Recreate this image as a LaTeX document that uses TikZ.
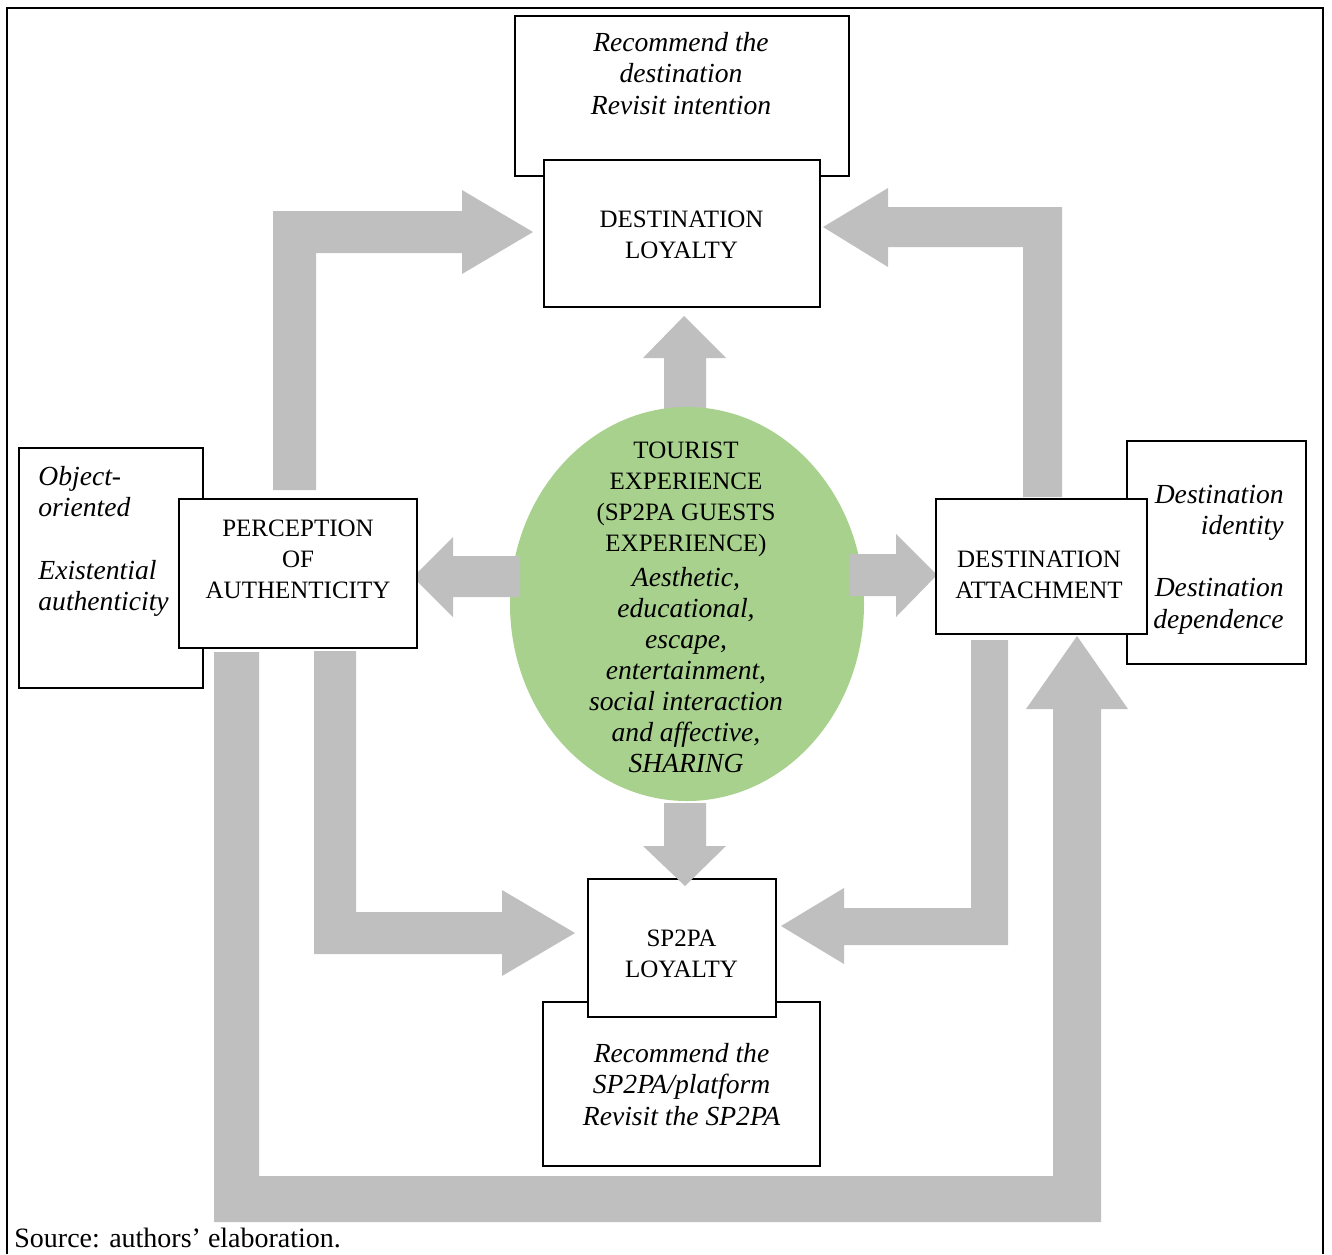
\documentclass[tikz,border=0pt]{standalone}
\usepackage{fontspec}
\setmainfont{Liberation Serif}
\usetikzlibrary{shapes.geometric}
\definecolor{arrowgray}{HTML}{BFBFBF}
\definecolor{expgreen}{HTML}{A9D18E}
\newcommand\capsz{\fontsize{12.5}{15.5}\selectfont}
\newcommand\itsz{\fontsize{13.8}{15.7}\selectfont\itshape}
\newcommand\srcsz{\fontsize{14}{16}\selectfont}
\tikzset{
  box/.style={draw=black, line width=1pt, fill=white, inner sep=0pt},
  lbl/.style={inner sep=0pt, align=center, font=\capsz},
  itlbl/.style={inner sep=0pt, font=\itsz},
  blockarrow/.style={fill=arrowgray, draw=none},
}
\begin{document}
\begin{tikzpicture}[x=0.5pt, y=-0.5pt]
\useasboundingbox (0,0) rectangle (1332,1254);

% outer frame (open at the bottom)
\draw[line width=1.1pt] (7,1254) -- (7,8) -- (1323,8) -- (1323,1254);

% block arrows lying behind the boxes
% perception of authenticity -> destination loyalty
\fill[blockarrow] (273,490) -- (273,211) -- (462,211) -- (462,190) -- (533,232)
  -- (462,274) -- (462,253) -- (316,253) -- (316,490) -- cycle;
% destination attachment -> destination loyalty
\fill[blockarrow] (1062,497) -- (1062,207) -- (888,207) -- (888,188) -- (823,227)
  -- (888,267) -- (888,247) -- (1023,247) -- (1023,497) -- cycle;
% tourist experience -> destination loyalty
\fill[blockarrow] (664,412) -- (664,358) -- (643,358) -- (684,316) -- (726,358)
  -- (706,358) -- (706,412) -- cycle;
% perception of authenticity -> SP2PA loyalty
\fill[blockarrow] (314,651) -- (356,651) -- (356,912) -- (502,912) -- (502,890)
  -- (575,933) -- (502,976) -- (502,954) -- (314,954) -- cycle;
% destination attachment -> SP2PA loyalty
\fill[blockarrow] (1008,640) -- (1008,945) -- (844,945) -- (844,964) -- (781,926)
  -- (844,888) -- (844,908) -- (971,908) -- (971,640) -- cycle;
% perception of authenticity -> destination attachment (outer loop)
\fill[blockarrow] (214,652) -- (259,652) -- (259,1176) -- (1053,1176) -- (1053,709)
  -- (1026,709) -- (1077,636) -- (1128,709) -- (1101,709) -- (1101,1222)
  -- (214,1222) -- cycle;

% central experience ellipse
\node[ellipse, fill=expgreen, draw=none, inner sep=0pt,
      minimum width=177pt, minimum height=197pt] (te) at (687,604) {};

% side arrows leaving the ellipse
\fill[blockarrow] (520,556) -- (453,556) -- (453,537) -- (413,577) -- (453,617)
  -- (453,597) -- (520,597) -- cycle;
\fill[blockarrow] (850,554) -- (896,554) -- (896,534) -- (937,575) -- (896,617)
  -- (896,596) -- (850,596) -- cycle;

% boxes
\node[box, minimum width=167pt, minimum height=80pt] (recdest) at (682,96) {};
\node[box, minimum width=138pt, minimum height=73.5pt] (dl) at (682,233.5) {};
\node[box, minimum width=92pt, minimum height=120pt] (authbox) at (111,568) {};
\node[box, minimum width=119pt, minimum height=74.5pt] (poa) at (298,573.5) {};
\node[box, minimum width=89.5pt, minimum height=111.5pt] (attbox) at (1216.5,552.5) {};
\node[box, minimum width=105.5pt, minimum height=67.5pt] (da) at (1041.5,566.5) {};
\node[box, minimum width=138.5pt, minimum height=82pt] (recsp) at (681.5,1084) {};
\node[box, minimum width=94pt, minimum height=69pt] (sp) at (682,948) {};

% tourist experience -> SP2PA loyalty
\fill[blockarrow] (664,803) -- (706,803) -- (706,846) -- (726,846) -- (685,886)
  -- (643,846) -- (664,846) -- cycle;

% texts
\node[itlbl, align=center] (recdesttxt) at (681,73.5)
  {Recommend the\\destination\\Revisit intention};
\node[lbl] (dltxt) at (681.5,234.5) {DESTINATION\\LOYALTY};
\node[lbl] (poatxt) at (298,559) {PERCEPTION\\OF\\AUTHENTICITY};
\node[itlbl, align=left, anchor=west] (authtxt) at (38,541.5)
  {Object-\\oriented\\[15.5pt]Existential\\authenticity};
\node[itlbl, align=right, anchor=east] (atttxt) at (1284,559.5)
  {Destination\\identity\\[15.5pt]Destination\\dependence};
\node[lbl] (datxt) at (1039,574.5) {DESTINATION\\ATTACHMENT};
\node[lbl] (tetxt) at (686,607.5)
  {TOURIST\\EXPERIENCE\\(SP2PA GUESTS\\EXPERIENCE)\\[2pt]{\itsz Aesthetic,}\\
   {\itsz educational,}\\{\itsz escape,}\\{\itsz entertainment,}\\
   {\itsz social interaction}\\{\itsz and affective,}\\{\itsz SHARING}};
\node[lbl] (sptxt) at (681.5,953.5) {SP2PA\\LOYALTY};
\node[itlbl, align=center] (recsptxt) at (681.5,1084.5)
  {Recommend the\\SP2PA/platform\\Revisit the SP2PA};
\node[inner sep=0pt, anchor=base west, font=\srcsz] (src) at (14,1247)
  {Source: authors’ elaboration.};
\end{tikzpicture}
\end{document}
